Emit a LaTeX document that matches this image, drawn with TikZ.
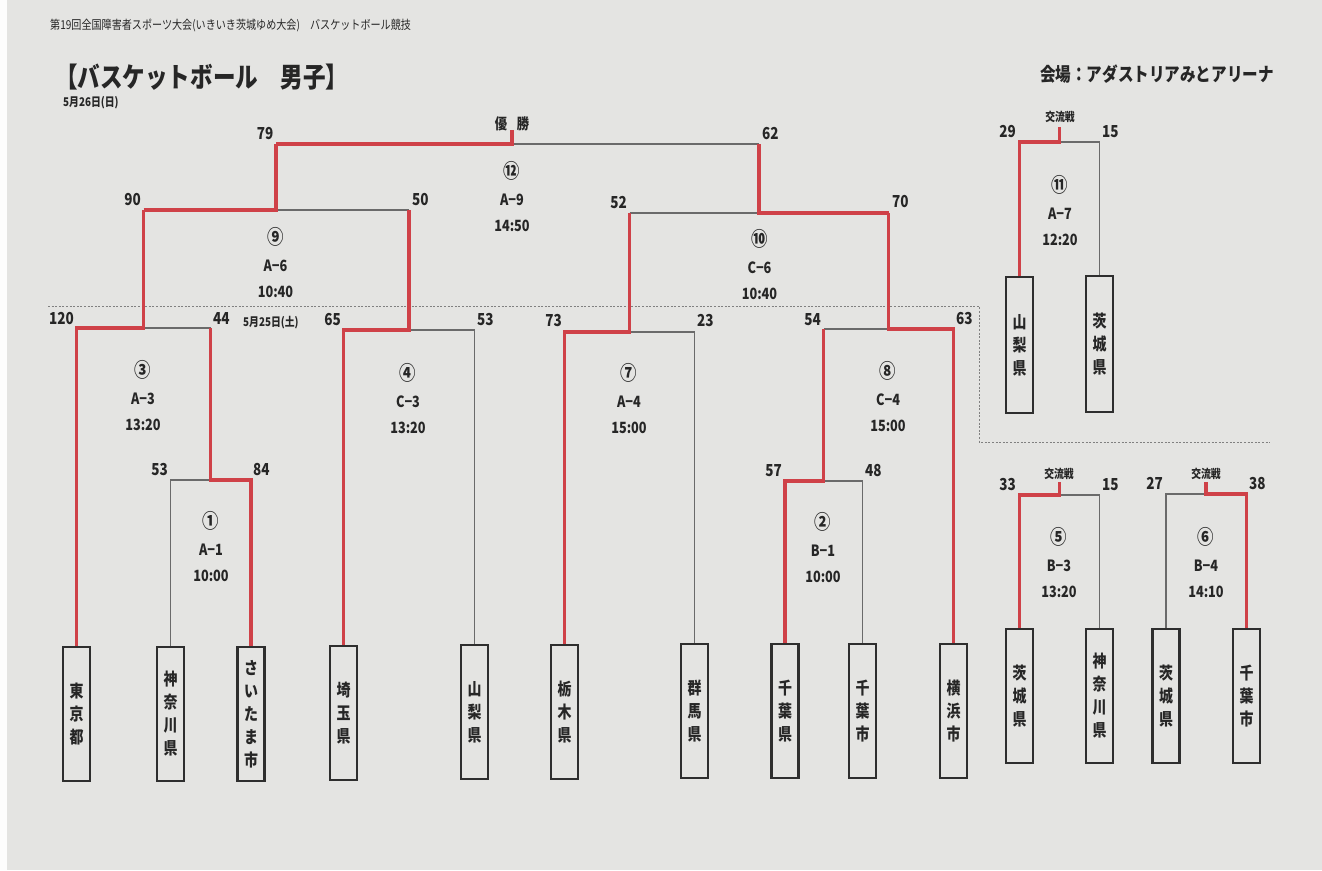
\documentclass[tikz,border=0pt]{standalone}
\usepackage{fontspec}
\newfontfamily\jpn{Noto Sans CJK JP}[FakeStretch=0.82]
\newcommand\circf{\fontsize{20}{26.5}\selectfont}
\definecolor{paper}{HTML}{E4E4E2}
\definecolor{wred}{HTML}{CF4148}
\definecolor{lgray}{HTML}{6A6A6A}
\definecolor{bdark}{HTML}{2E2E2E}
\definecolor{tdark}{HTML}{262626}
\begin{document}
\begin{tikzpicture}[x=1pt,y=-1pt,
  win/.style={draw=wred, line width=3.2pt},
  lose/.style={draw=lgray, line width=1.1pt},
  team/.style={draw=bdark, line width=2.3pt, minimum width=27pt, minimum height=134pt, inner sep=0pt, align=center, text=tdark, font=\jpn\bfseries\fontsize{17}{23}\selectfont},
  score/.style={inner sep=0pt, text=tdark, font=\jpn\bfseries\fontsize{16.5}{16.5}\selectfont},
  minfo/.style={inner sep=0pt, align=center, text=tdark, font=\jpn\bfseries\fontsize{15.5}{26.5}\selectfont},
  smalltxt/.style={inner sep=0pt, text=tdark, font=\jpn\bfseries\fontsize{12}{12}\selectfont},
  dotline/.style={draw=gray, line width=0.8pt, dash pattern=on 2pt off 1.6pt}
]
\useasboundingbox (0,0) rectangle (1322,870);
\fill[paper] (0,0) rectangle (1322,870);
\fill[white!92!paper] (0,0) rectangle (7,870);

% headings
\node[inner sep=0pt, anchor=west, text=tdark, font=\jpn\fontsize{12.3}{12.3}\selectfont] (hdr) at (50,25) {第19回全国障害者スポーツ大会(いきいき茨城ゆめ大会)　バスケットボール競技};
\node[inner sep=0pt, anchor=west, text=tdark, font=\jpn\bfseries\fontsize{27.5}{27.5}\selectfont] (ttl) at (55,77) {【バスケットボール　男子】};
\node[smalltxt, anchor=west] (d26) at (63,103) {5月26日(日)};
\node[inner sep=0pt, anchor=east, text=tdark, font=\jpn\bfseries\fontsize{19}{19}\selectfont] (venue) at (1274,74) {会場：アダストリアみとアリーナ};
\node[smalltxt, anchor=west] (d25) at (243,323) {5月25日(土)};

% dotted separators
\coordinate (dA) at (48,306);
\coordinate (dB) at (979,306);
\coordinate (dC) at (979,442);
\coordinate (dD) at (1270,442);
\draw[dotline] (dA) -- (dB) -- (dC) -- (dD);

% team boxes (main bracket)
\node[team] (tokyo)    at (76.5,714)  {東\\京\\都};
\node[team] (kana1)    at (170.5,714) {神\\奈\\川\\県};
\node[team] (saitama)  at (251,714)   {さ\\い\\た\\ま\\市};
\node[team] (saiken)   at (343.5,713) {埼\\玉\\県};
\node[team] (yama1)    at (474.5,712) {山\\梨\\県};
\node[team] (tochigi)  at (564.5,712) {栃\\木\\県};
\node[team] (gunma)    at (694.5,711) {群\\馬\\県};
\node[team] (chibaken) at (785,711)   {千\\葉\\県};
\node[team] (chibashi) at (862.5,711) {千\\葉\\市};
\node[team] (yokohama) at (953.5,711) {横\\浜\\市};
% exchange matches
\node[team, minimum height=136pt] (yama2)    at (1019.5,345) {山\\梨\\県};
\node[team, minimum height=136pt] (ibaraki1) at (1099.5,344) {茨\\城\\県};
\node[team] (ibaraki2)  at (1019.5,696) {茨\\城\\県};
\node[team] (kana2)     at (1099.5,696) {神\\奈\\川\\県};
\node[team] (ibaraki3)  at (1166,696)   {茨\\城\\県};
\node[team] (chibashi2) at (1246.5,696) {千\\葉\\市};

% match points
\coordinate (m1) at (210.75,480);
\coordinate (m2) at (823.75,481);
\coordinate (m3) at (143.6,328);
\coordinate (m4) at (409,330);
\coordinate (m7) at (629.5,332);
\coordinate (m8) at (888.6,329);
\coordinate (m9) at (276,210);
\coordinate (m10) at (759,213);
\coordinate (m12) at (512,144);
\coordinate (champ) at (512,130);
\coordinate (m11) at (1059.5,142);
\coordinate (s11) at (1059.5,127);
\coordinate (m5) at (1059.5,495);
\coordinate (s5) at (1059.5,482);
\coordinate (m6) at (1206,494);
\coordinate (s6) at (1206,482);

% losers (gray) first
\draw[lose] (kana1.north) |- (m1);
\draw[lose] (m1 |- m3) -- (m3);
\draw[lose] (yama1.north) |- (m4);
\draw[lose] (m4 |- m9) -- (m9);
\draw[lose] (m10 |- m12) -- (m12);
\draw[lose] (gunma.north) |- (m7);
\draw[lose] (chibashi.north) |- (m2);
\draw[lose] (m2 |- m8) -- (m8);
\draw[lose] (m7 |- m10) -- (m10);
\draw[lose] (ibaraki1.north) |- (m11);
\draw[lose] (kana2.north) |- (m5);
\draw[lose] (ibaraki3.north) |- (m6);

% winners (red)
\draw[win] (saitama.north) |- (m1) -- (m1 |- m3);
\draw[win] (tokyo.north) |- (m3) -- (m3 |- m9);
\draw[win] (saiken.north) |- (m4) -- (m4 |- m9);
\draw[win] (m3 |- m9) -- (m9) -- (m9 |- m12);
\draw[win] (m9 |- m12) -- (m12) -- (champ);
\draw[win] (tochigi.north) |- (m7) -- (m7 |- m10);
\draw[win] (chibaken.north) |- (m2) -- (m2 |- m8);
\draw[win] (yokohama.north) |- (m8) -- (m8 |- m10);
\draw[win] (m8 |- m10) -- (m10) -- (m10 |- m12);
\draw[win] (yama2.north) |- (m11) -- (s11);
\draw[win] (ibaraki2.north) |- (m5) -- (s5);
\draw[win] (chibashi2.north) |- (m6) -- (s6);

% champion label
\node[inner sep=0pt, text=tdark, font=\jpn\bfseries\fontsize{15}{15}\selectfont] (yu) at (501,124) {優};
\node[inner sep=0pt, text=tdark, font=\jpn\bfseries\fontsize{15}{15}\selectfont] (sho) at (523,124) {勝};

% exchange labels
\node[smalltxt] (k11) at (1060,117) {交流戦};
\node[smalltxt] (k5) at (1059,474) {交流戦};
\node[smalltxt] (k6) at (1206,474) {交流戦};

% scores
\node[score, anchor=south east] at (273.5,140) {79};
\node[score, anchor=south west] at (762,140) {62};
\node[score, anchor=south east] at (141,206) {90};
\node[score, anchor=south west] at (412,206) {50};
\node[score, anchor=south east] at (627,209) {52};
\node[score, anchor=south west] at (892,208) {70};
\node[score, anchor=south east] at (74,325) {120};
\node[score, anchor=south west] at (213,325) {44};
\node[score, anchor=south east] at (341,326) {65};
\node[score, anchor=south west] at (477,326) {53};
\node[score, anchor=south east] at (562,327) {73};
\node[score, anchor=south west] at (697,327) {23};
\node[score, anchor=south east] at (821,326) {54};
\node[score, anchor=south west] at (956,325) {63};
\node[score, anchor=south east] at (168,476) {53};
\node[score, anchor=south west] at (253,476) {84};
\node[score, anchor=south east] at (782,477) {57};
\node[score, anchor=south west] at (865,477) {48};
\node[score, anchor=south east] at (1016,138) {29};
\node[score, anchor=south west] at (1102,138) {15};
\node[score, anchor=south east] at (1016,491) {33};
\node[score, anchor=south west] at (1102,491) {15};
\node[score, anchor=south east] at (1163,490) {27};
\node[score, anchor=south west] at (1249,490) {38};

% match info
\node[minfo] at (512,197) {{\circf ⑫}\\A−9\\14:50};
\node[minfo] at (275.5,263) {{\circf ⑨}\\A−6\\10:40};
\node[minfo] at (759.5,265) {{\circf ⑩}\\C−6\\10:40};
\node[minfo] at (143,396) {{\circf ③}\\A−3\\13:20};
\node[minfo] at (408,399) {{\circf ④}\\C−3\\13:20};
\node[minfo] at (629,399) {{\circf ⑦}\\A−4\\15:00};
\node[minfo] at (888,397) {{\circf ⑧}\\C−4\\15:00};
\node[minfo] at (211,547) {{\circf ①}\\A−1\\10:00};
\node[minfo] at (823,548) {{\circf ②}\\B−1\\10:00};
\node[minfo] at (1060,211) {{\circf ⑪}\\A−7\\12:20};
\node[minfo] at (1059,563) {{\circf ⑤}\\B−3\\13:20};
\node[minfo] at (1206,563) {{\circf ⑥}\\B−4\\14:10};
\end{tikzpicture}
\end{document}
